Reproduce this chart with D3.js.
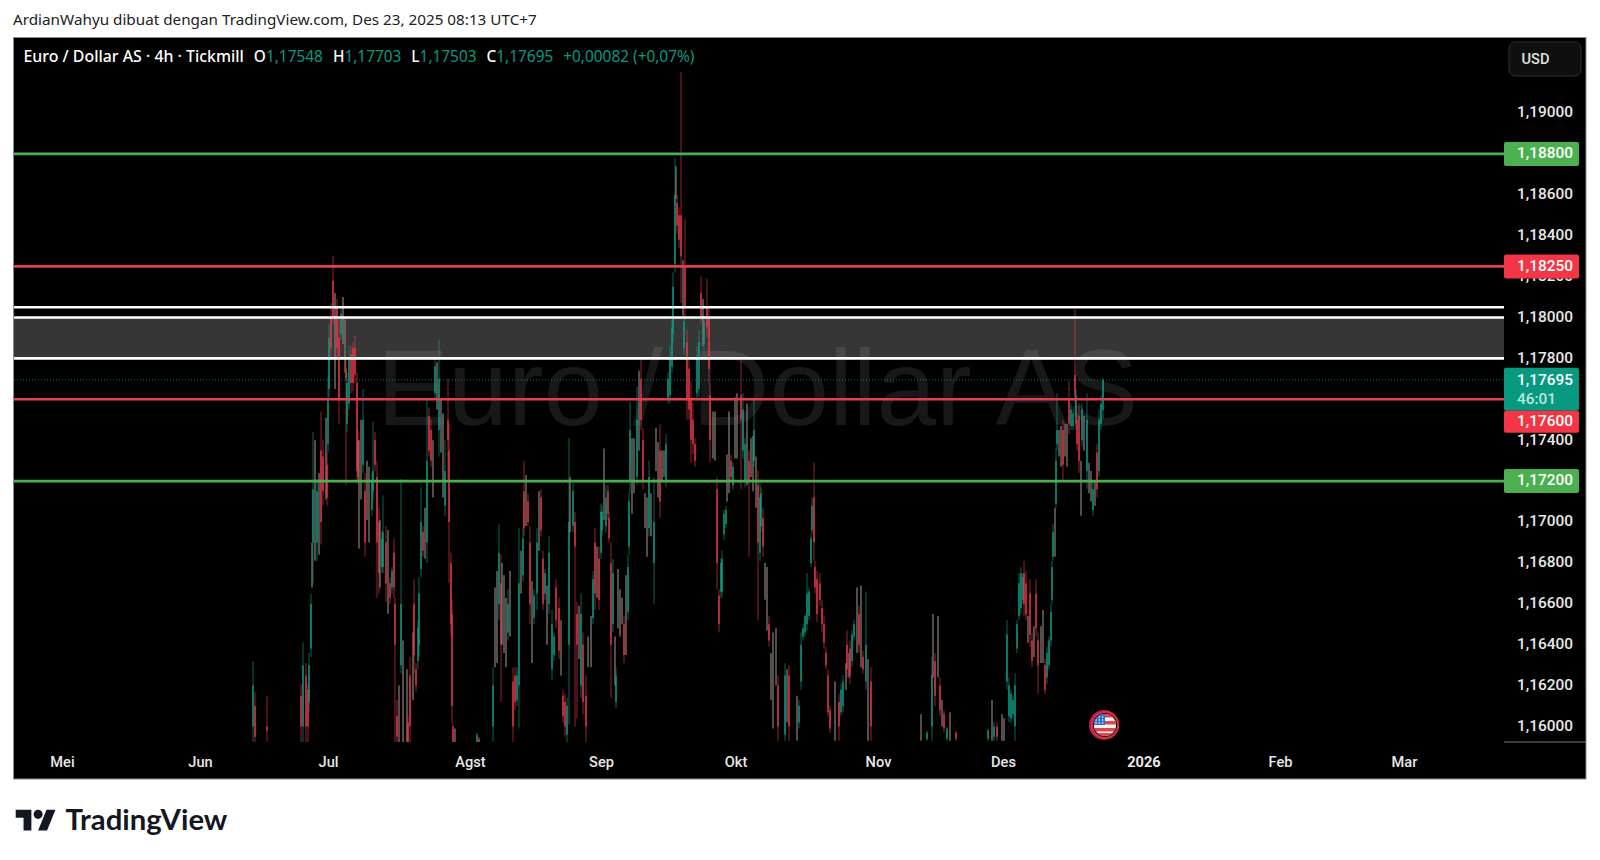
<!DOCTYPE html>
<html><head><meta charset="utf-8">
<script src="https://cdnjs.cloudflare.com/ajax/libs/d3/7.8.5/d3.min.js"></script>
<style>html,body{margin:0;background:#fff}svg{display:block}text{font-family:Roboto,sans-serif}</style>
</head><body><svg id="c" width="1600" height="860"></svg>
<script>
// Rows: [bar index since 1 May, high, low, open, close] in 1/10000 price units. open===close: several bars merged in one pixel column.
const juneBars=[[191,11632,11590,11600,11620],[193,11617,11590,11610,11595],[205,11615,11590,11600,11598],[239,11621,11590,11615,11600],[241,11641,11590,11600,11630],[244,11631,11590,11625,11600],[246,11621,11590,11618,11600],[247,11636,11607,11612,11630],[249,11665,11634,11638,11660],[250,11690,11668,11680,11680],[251,11744,11670,11690,11716],[253,11740,11681,11710,11710],[255,11721,11681,11690,11715],[257,11724,11684,11700,11700],[259,11754,11689,11735,11700],[261,11740,11708,11732,11715],[264,11751,11711,11730,11730],[265,11734,11708,11728,11712]];
const julyBars=[[266,11771,11734,11738,11760],[267,11797,11761,11765,11790],[269,11807,11779,11800,11785],[271,11830,11797,11818,11800],[273,11812,11765,11790,11790],[275,11809,11781,11805,11785],[277,11799,11748,11790,11760],[279,11805,11789,11792,11802],[281,11810,11787,11798,11798],[283,11799,11773,11785,11785],[284,11781,11718,11775,11770],[285,11773,11744,11748,11768],[287,11786,11755,11758,11780],[289,11786,11763,11782,11768],[291,11788,11764,11785,11768],[293,11791,11768,11785,11772],[295,11773,11719,11768,11725],[296,11745,11719,11740,11722],[297,11740,11687,11710,11710],[299,11750,11711,11730,11730],[301,11765,11724,11728,11750],[303,11724,11683,11715,11690],[305,11730,11701,11715,11715],[307,11727,11690,11708,11708],[310,11724,11703,11706,11720],[311,11749,11711,11715,11725],[313,11744,11725,11740,11728],[315,11730,11663,11722,11690],[317,11707,11665,11700,11675],[318,11701,11668,11685,11685],[320,11696,11675,11678,11692],[321,11713,11675,11678,11695],[324,11698,11661,11690,11670],[326,11696,11655,11675,11675],[328,11673,11660,11670,11663],[330,11678,11665,11668,11676],[332,11692,11663,11685,11668],[333,11663,11590,11660,11640],[335,11613,11590,11605,11595],[337,11620,11590,11605,11605],[339,11721,11626,11630,11660],[341,11642,11590,11620,11620],[345,11628,11590,11610,11610],[346,11605,11590,11602,11592],[348,11634,11590,11625,11600],[351,11646,11613,11630,11630],[352,11672,11626,11660,11635],[354,11631,11617,11628,11620],[356,11652,11628,11632,11648],[357,11673,11634,11640,11665],[359,11717,11673,11677,11700],[361,11698,11683,11695,11686],[363,11707,11682,11695,11695],[365,11760,11680,11690,11730],[367,11756,11732,11752,11735],[369,11750,11727,11745,11730],[371,11740,11712,11725,11725],[373,11779,11761,11763,11776],[375,11778,11755,11765,11765],[377,11789,11732,11745,11770],[379,11760,11734,11747,11747],[381,11753,11712,11730,11730],[383,11740,11703,11708,11725],[386,11770,11721,11750,11740],[387,11748,11670,11735,11700],[389,11685,11644,11680,11650],[390,11662,11602,11655,11610],[391,11602,11590,11600,11592],[393,11599,11590,11595,11595]];
const augustBars=[[415,11597,11590,11592,11596],[417,11595,11590,11594,11591],[431,11629,11590,11600,11620],[433,11668,11629,11650,11650],[435,11676,11631,11655,11655],[437,11699,11652,11660,11685],[439,11684,11612,11670,11640],[440,11680,11640,11660,11660],[442,11674,11636,11655,11655],[444,11663,11629,11645,11645],[446,11667,11642,11646,11660],[448,11676,11644,11660,11660],[451,11629,11592,11622,11600],[453,11629,11608,11625,11612],[455,11629,11610,11613,11625],[457,11697,11599,11620,11670],[459,11686,11665,11675,11675],[461,11697,11671,11674,11692],[462,11730,11693,11715,11697],[464,11723,11698,11710,11710],[466,11714,11698,11710,11700],[468,11698,11650,11690,11660],[470,11671,11631,11650,11650],[472,11667,11650,11653,11664],[475,11697,11657,11665,11690],[477,11715,11686,11700,11700],[479,11716,11693,11712,11696],[481,11686,11657,11682,11660],[483,11677,11662,11665,11675],[485,11669,11640,11655,11655],[487,11693,11655,11660,11685],[490,11657,11623,11628,11650],[492,11646,11632,11635,11644],[494,11672,11648,11668,11652],[497,11663,11633,11658,11637],[499,11652,11625,11638,11638],[501,11618,11602,11615,11605],[503,11616,11595,11612,11600],[505,11614,11592,11596,11610],[507,11741,11601,11640,11700],[508,11722,11695,11708,11708],[511,11719,11695,11698,11715],[513,11705,11600,11700,11688],[515,11661,11604,11655,11640],[517,11659,11633,11646,11646],[519,11665,11614,11620,11655],[521,11646,11606,11640,11612],[524,11625,11592,11615,11600],[526,11644,11629,11636,11636],[529,11654,11629,11640,11640],[531,11676,11650,11653,11672],[533,11697,11657,11690,11665],[535,11688,11663,11675,11675],[537,11688,11657,11682,11662]];
const septemberBars=[[539,11709,11682,11685,11705],[540,11708,11693,11696,11705],[542,11736,11701,11718,11718],[544,11718,11695,11698,11712],[546,11718,11701,11715,11704],[547,11705,11690,11702,11692],[549,11690,11614,11680,11640],[551,11682,11646,11650,11675],[553,11644,11620,11632,11632],[554,11629,11609,11612,11625],[556,11677,11648,11662,11662],[558,11667,11644,11655,11655],[560,11663,11650,11656,11656],[562,11654,11631,11650,11635],[564,11674,11635,11650,11650],[566,11684,11652,11656,11678],[567,11714,11684,11688,11710],[568,11759,11714,11720,11745],[570,11741,11704,11722,11722],[572,11741,11714,11728,11728],[575,11766,11718,11722,11750],[577,11774,11735,11755,11755],[579,11780,11745,11770,11750],[581,11746,11716,11740,11720],[583,11714,11697,11705,11705],[585,11712,11683,11698,11698],[587,11730,11693,11697,11722],[589,11714,11693,11703,11703],[592,11722,11660,11680,11700],[594,11746,11725,11735,11735],[596,11739,11712,11725,11725],[598,11748,11702,11735,11710],[600,11735,11720,11728,11728],[602,11735,11722,11728,11728],[604,11743,11717,11720,11738],[606,11773,11758,11760,11770],[608,11786,11758,11762,11780],[610,11799,11773,11776,11795],[611,11822,11788,11792,11815],[613,11878,11822,11826,11860],[614,11874,11858,11866,11866],[615,11860,11841,11856,11845],[617,11854,11834,11850,11838],[619,11920,11807,11850,11830],[621,11828,11801,11815,11815],[622,11801,11782,11785,11798],[623,11848,11799,11825,11805],[625,11794,11750,11788,11760],[627,11780,11750,11775,11755],[629,11769,11729,11760,11740],[631,11758,11733,11750,11738],[633,11741,11727,11738,11730],[635,11786,11760,11763,11780],[637,11794,11761,11765,11788],[639,11820,11797,11812,11800],[641,11809,11786,11797,11797],[642,11801,11784,11787,11798],[645,11819,11790,11805,11795],[647,11805,11768,11800,11775],[648,11768,11729,11762,11740],[651,11754,11731,11742,11742],[653,11754,11730,11742,11742],[655,11722,11667,11716,11680],[657,11667,11646,11664,11650],[659,11682,11663,11666,11680],[660,11686,11663,11666,11682],[662,11706,11691,11694,11704],[664,11708,11697,11699,11706]];
const octoberBars=[[665,11733,11710,11720,11720],[667,11754,11714,11735,11735],[669,11733,11720,11730,11722],[671,11729,11716,11718,11727],[673,11761,11731,11745,11745],[675,11763,11731,11748,11748],[679,11779,11716,11762,11750],[681,11763,11731,11735,11755],[683,11741,11717,11720,11738],[685,11758,11718,11738,11738],[687,11735,11683,11730,11720],[689,11741,11722,11730,11730],[691,11742,11715,11728,11728],[692,11760,11727,11730,11745],[694,11732,11707,11720,11720],[696,11725,11652,11718,11690],[698,11721,11681,11685,11712],[699,11717,11695,11698,11714],[701,11707,11683,11702,11688],[703,11680,11662,11670,11670],[705,11678,11647,11662,11662],[707,11654,11639,11650,11642],[709,11636,11613,11625,11625],[711,11646,11599,11620,11620],[714,11648,11620,11635,11635],[716,11625,11593,11620,11600],[723,11631,11593,11596,11625],[725,11628,11602,11615,11615],[727,11630,11593,11625,11600],[735,11615,11593,11604,11604],[737,11613,11599,11602,11610],[739,11646,11618,11622,11640],[741,11650,11642,11644,11648],[743,11655,11644,11646,11654],[745,11675,11647,11650,11665],[747,11668,11652,11654,11666],[749,11694,11678,11680,11692],[750,11712,11694,11696,11708],[752,11729,11681,11712,11690],[753,11681,11665,11678,11668],[755,11676,11651,11672,11655],[758,11675,11659,11670,11662],[760,11662,11646,11658,11650],[762,11654,11638,11650,11641],[764,11639,11628,11636,11630],[766,11628,11605,11625,11607],[768,11610,11597,11608,11599],[773,11622,11593,11606,11606],[777,11616,11593,11612,11600],[779,11621,11605,11607,11618],[781,11625,11607,11610,11622],[784,11631,11618,11624,11624],[785,11647,11624,11640,11628],[787,11636,11624,11630,11630],[788,11642,11621,11638,11625],[790,11647,11629,11632,11645],[792,11652,11642,11644,11650],[795,11668,11636,11650,11650],[797,11659,11636,11655,11640],[799,11669,11629,11650,11650],[801,11637,11626,11634,11628],[804,11666,11618,11622,11640],[806,11633,11593,11612,11612],[809,11629,11593,11622,11600]];
const novemberBars=[[859,11606,11593,11600,11600],[865,11598,11593,11594,11597],[870,11634,11593,11600,11625],[871,11655,11624,11640,11640],[873,11636,11610,11632,11615],[876,11654,11624,11640,11640],[878,11624,11605,11620,11608],[880,11613,11600,11606,11606],[882,11608,11597,11606,11599],[885,11600,11593,11594,11599],[888,11607,11593,11600,11600],[894,11598,11593,11597,11594],[926,11599,11593,11594,11598],[930,11613,11593,11603,11603],[932,11602,11593,11595,11600],[935,11602,11593,11600,11595],[940,11606,11593,11600,11600]];
const decemberBars=[[942,11604,11593,11598,11598],[945,11652,11618,11622,11645],[947,11624,11602,11605,11620],[949,11618,11602,11604,11616],[951,11615,11604,11606,11613],[953,11626,11593,11600,11620],[955,11652,11636,11638,11650],[957,11675,11652,11654,11670],[959,11678,11655,11658,11675],[961,11675,11660,11662,11673],[962,11681,11654,11675,11660],[964,11676,11652,11670,11655],[966,11654,11641,11648,11648],[968,11672,11639,11665,11645],[970,11646,11629,11642,11632],[972,11649,11634,11640,11640],[974,11672,11644,11665,11648],[976,11646,11616,11642,11630],[979,11649,11631,11640,11640],[981,11657,11631,11645,11645],[983,11633,11616,11630,11618],[985,11639,11621,11624,11636],[987,11644,11628,11630,11642],[989,11660,11639,11642,11656],[990,11681,11660,11662,11678],[991,11699,11681,11683,11695],[993,11707,11683,11695,11695],[994,11736,11707,11709,11730],[995,11763,11735,11738,11745],[997,11745,11732,11738,11738],[999,11747,11727,11737,11737],[1001,11750,11720,11745,11728],[1003,11748,11732,11740,11740],[1005,11748,11727,11738,11738],[1007,11769,11743,11760,11748],[1009,11758,11745,11747,11755],[1011,11755,11745,11747,11753],[1013,11804,11758,11772,11762],[1014,11765,11745,11748,11762],[1015,11753,11735,11750,11738],[1017,11758,11724,11752,11730],[1019,11730,11703,11716,11716],[1020,11758,11737,11740,11755],[1022,11752,11735,11743,11743],[1025,11763,11716,11725,11750],[1027,11729,11714,11722,11722],[1029,11725,11710,11718,11718],[1031,11720,11703,11706,11716],[1033,11720,11708,11714,11714],[1035,11738,11712,11734,11716],[1037,11755,11722,11725,11750],[1039,11762,11745,11748,11758],[1041,11770.3,11750.3,11754.8,11769.5]];

const monthLabels=["Mei","Jun","Jul","Agst","Sep","Okt","Nov","Des","2026","Feb","Mar"];
const monthBars=[0,138,266,408,539,673.5,816,941,1081.5,1218,1342];
const priceTicks=[1.16,1.162,1.164,1.166,1.168,1.17,1.172,1.174,1.178,1.18,1.182,1.184,1.186,1.188,1.19];
const supportLevels=[1.188,1.172];
const resistanceLevels=[1.1825,1.176];
const zoneLines=[1.1805,1.18,1.178];
const zoneBand=[1.18,1.178];
const lastClose=1.17695;
const countdown="46:01";
const headerText="ArdianWahyu dibuat dengan TradingView.com, Des 23, 2025 08:13 UTC+7";
const symbolText="Euro / Dollar AS · 4h · Tickmill";
const ohlcLabels=["O","H","L","C"];
const ohlcValues=["1,17548","1,17703","1,17503","1,17695"];
const changeText="+0,00082 (+0,07%)";
const watermark="Euro / Dollar AS";

const UP="#10a08a",DOWN="#ee3a4b",MIX="#857a77",GREEN="#4caf50",RED="#e53e50",TEAL="#089981";
const L=13.5,R=1504,T=37.5,B=742,FR=1586,FB=779;
const svg=d3.select("#c");
const fmt=p=>p.toFixed(5).replace(".",",");
const x=d3.scaleLinear().domain([-49,1442]).range([13,1504]);
const y=d3.scaleLinear().domain([1.16,1.19]).range([726.5,113]);
const allBars=[].concat(juneBars,julyBars,augustBars,septemberBars,octoberBars,novemberBars,decemberBars);

svg.append("text").attr("x",13).attr("y",25).attr("font-size",15.25).attr("fill","#222").style("font-family","'Noto Sans'").text(headerText);
svg.append("rect").attr("x",L).attr("y",T).attr("width",FR-L).attr("height",FB-T).attr("fill","#000").attr("stroke","#8a8a8a").attr("stroke-width",1);
const defs=svg.append("defs");
defs.append("clipPath").attr("id","plot").append("rect").attr("x",14).attr("y",38).attr("width",R-14).attr("height",B-38);

const plot=svg.append("g").attr("clip-path","url(#plot)");
plot.append("rect").attr("x",14).attr("width",R-14).attr("y",y(zoneBand[0])).attr("height",y(zoneBand[1])-y(zoneBand[0])).attr("fill","#363636");
plot.append("text").attr("x",377).attr("y",425).attr("font-size",107).attr("fill","rgba(255,255,255,0.095)").style("font-family","'Liberation Sans'").text(watermark);

const cand=plot.append("g").selectAll("g").data(allBars).join("g");
const colorOf=d=>d[3]===d[4]?MIX:(d[4]>d[3]?UP:DOWN);
cand.append("line").attr("x1",d=>x(d[0])).attr("x2",d=>x(d[0])).attr("y1",d=>y(d[1]/1e4)).attr("y2",d=>y(d[2]/1e4))
 .attr("stroke",colorOf).attr("stroke-width",d=>d[3]===d[4]?1.5:1).attr("stroke-opacity",d=>d[3]===d[4]?.85:.62);
cand.filter(d=>d[3]!==d[4]).append("line").attr("x1",d=>x(d[0])).attr("x2",d=>x(d[0])).attr("y1",d=>y(d[3]/1e4)).attr("y2",d=>y(d[4]/1e4))
 .attr("stroke",colorOf).attr("stroke-width",1.5).attr("stroke-opacity",.88);

plot.append("line").attr("x1",14).attr("x2",R).attr("y1",y(lastClose)).attr("y2",y(lastClose)).attr("stroke",TEAL).attr("stroke-dasharray","1 2").attr("stroke-width",1).attr("stroke-opacity",.8);
const hline=(arr,col)=>plot.append("g").selectAll("line").data(arr).join("line").attr("x1",14).attr("x2",R).attr("y1",d=>y(d)).attr("y2",d=>y(d)).attr("stroke",col).attr("stroke-width",2.6);
hline(zoneLines,"#fff");hline(supportLevels,GREEN);hline(resistanceLevels,RED);

// flag event marker
const fx=1105,fy=725;
svg.append("circle").attr("cx",fx-1).attr("cy",fy).attr("r",15).attr("fill","#c2185b");
svg.append("circle").attr("cx",fx).attr("cy",fy).attr("r",14).attr("fill","#d8303c");
svg.append("circle").attr("cx",fx).attr("cy",fy).attr("r",12).attr("fill","#111");
defs.append("clipPath").attr("id","flag").append("circle").attr("cx",fx).attr("cy",fy).attr("r",11);
const fl=svg.append("g").attr("clip-path","url(#flag)");
fl.append("rect").attr("x",fx-11).attr("y",fy-11).attr("width",22).attr("height",22).attr("fill","#f4f4f4");
[-11,-4,3].forEach(d=>fl.append("rect").attr("x",d===3?fx-11:fx).attr("y",fy+d).attr("width",22).attr("height",3.5).attr("fill","#e0444f"));
fl.append("rect").attr("x",fx-11).attr("y",fy+8).attr("width",22).attr("height",3).attr("fill","#e0444f");
fl.append("rect").attr("x",fx-11).attr("y",fy-11).attr("width",11).attr("height",11).attr("fill","#2f6fd0");
for(let i=0;i<3;i++)for(let j=0;j<3;j++)fl.append("circle").attr("cx",fx-9+i*3.3).attr("cy",fy-8+j*3).attr("r",.8).attr("fill","#fff");

// price axis
const yAxis=d3.axisRight(y).tickValues(priceTicks).tickFormat(fmt).tickSize(0).tickPadding(0);
const ya=svg.append("g").attr("transform","translate(1517,-1)").call(yAxis);
ya.select(".domain").remove();
ya.selectAll("text").attr("font-size",15.4).attr("font-weight",500).attr("fill","#e8e8e8").style("font-family","Roboto");
svg.append("line").attr("x1",R).attr("x2",FR).attr("y1",B).attr("y2",B).attr("stroke","#777");

// price labels
const tag=(p,col)=>{const c=y(p);svg.append("rect").attr("x",R).attr("width",75).attr("y",c-12).attr("height",24).attr("rx",2).attr("fill",col);
 svg.append("text").attr("x",1517).attr("y",c-1).attr("dy",".35em").attr("font-size",15.4).attr("font-weight",500).attr("fill","#fff").text(fmt(p));};
tag(1.188,GREEN);tag(1.1825,"#f23645");tag(1.172,GREEN);
const c0=y(lastClose);
svg.append("rect").attr("x",R).attr("width",75).attr("y",c0-12).attr("height",43).attr("rx",2).attr("fill",TEAL);
svg.append("text").attr("x",1517).attr("y",c0).attr("dy",".35em").attr("font-size",15.4).attr("font-weight",500).attr("fill","#fff").text(fmt(lastClose));
svg.append("text").attr("x",1517).attr("y",c0+19).attr("dy",".35em").attr("font-size",15.4).attr("font-weight",500).attr("fill","#b8e6dd").text(countdown);
svg.append("rect").attr("x",R).attr("width",75).attr("y",c0+31).attr("height",22).attr("rx",2).attr("fill","#f23645");
svg.append("text").attr("x",1517).attr("y",c0+41).attr("dy",".35em").attr("font-size",15.4).attr("font-weight",500).attr("fill","#fff").text(fmt(1.176));

// time axis
const xa=svg.append("g").attr("transform","translate(0,757)").call(d3.axisBottom(x).tickValues(monthBars).tickFormat((d,i)=>monthLabels[i]).tickSize(0).tickPadding(0));
xa.select(".domain").remove();
xa.selectAll("text").attr("font-size",14.6).attr("fill","#e8e8e8").attr("font-weight",d=>d===1081.5?700:500).style("font-family","Roboto");

// currency button
svg.append("rect").attr("x",1509).attr("y",42).attr("width",72).attr("height",34).attr("rx",6).attr("fill","#0f0f0f").attr("stroke","#2e2e2e");
svg.append("text").attr("x",1521.5).attr("y",59).attr("dy",".35em").attr("font-size",14.6).attr("font-weight",500).attr("fill","#e0e0e0").text("USD");

// legend
const leg=svg.append("text").attr("x",23.5).attr("y",62).attr("font-size",15.4).attr("fill","#fff").style("font-family","'Noto Sans'");
leg.append("tspan").attr("font-weight",500).attr("font-size",15.9).text(symbolText);
ohlcLabels.forEach((l,i)=>{leg.append("tspan").attr("dx",10).attr("font-weight",500).text(l);leg.append("tspan").attr("fill",TEAL).text(ohlcValues[i]);});
leg.append("tspan").attr("dx",10).attr("fill",TEAL).text(changeText);

// logo
const logo=svg.append("g").attr("transform","translate(15.7,805) scale(1.12,1.16)").attr("fill","#131722");
logo.append("path").attr("d","M14 22H7V11H0V4h14v18zM28 22h-8l7.5-18h8L28 22z");
logo.append("circle").attr("cx",20).attr("cy",8).attr("r",4);
svg.append("text").attr("x",65.5).attr("y",830).attr("font-size",29.3).attr("font-weight",700).attr("fill","#131722").style("font-family","Lato").text("TradingView");
</script></body></html>
